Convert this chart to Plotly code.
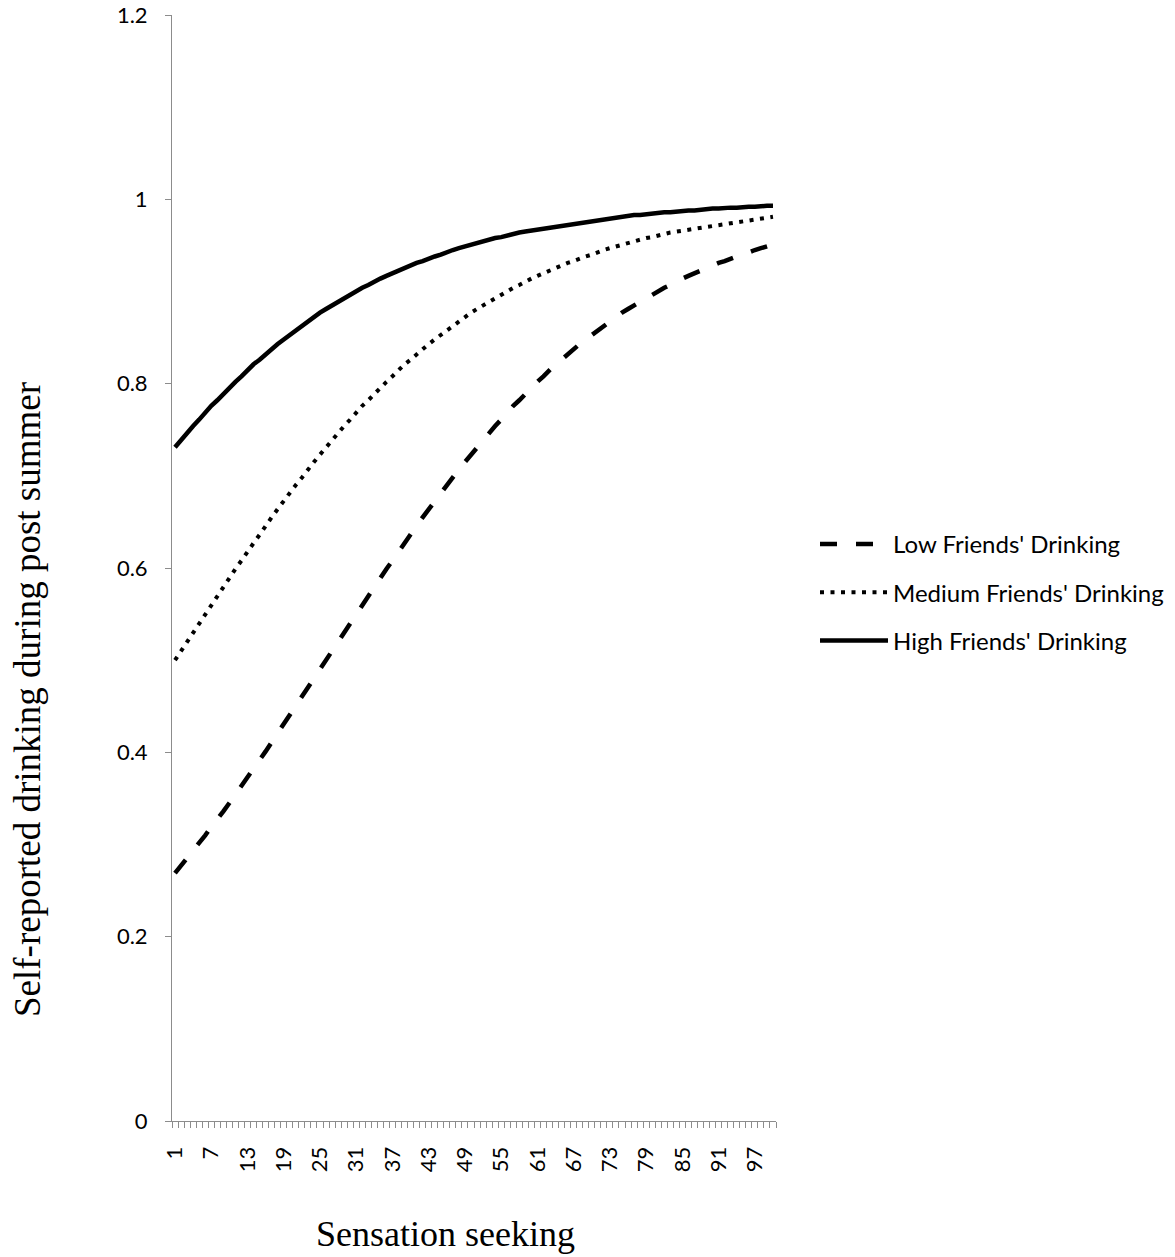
import plotly.graph_objects as go

# Sensation seeking categories 1..100
sensation = list(range(1, 101))
x_tick_labels = [str(v) for v in range(1, 101, 6)]

low_friends = [
    0.269, 0.277, 0.285, 0.293, 0.302, 0.310, 0.319, 0.327, 0.336, 0.345,
    0.354, 0.364, 0.373, 0.382, 0.392, 0.401, 0.411, 0.421, 0.430, 0.440,
    0.450, 0.460, 0.470, 0.480, 0.490, 0.500, 0.510, 0.520, 0.530, 0.540,
    0.550, 0.560, 0.570, 0.579, 0.589, 0.599, 0.608, 0.618, 0.627, 0.636,
    0.646, 0.655, 0.664, 0.673, 0.681, 0.690, 0.698, 0.707, 0.715, 0.723,
    0.731, 0.739, 0.747, 0.754, 0.761, 0.769, 0.776, 0.782, 0.789, 0.796,
    0.802, 0.808, 0.815, 0.821, 0.826, 0.832, 0.838, 0.843, 0.848, 0.853,
    0.858, 0.863, 0.868, 0.872, 0.877, 0.881, 0.885, 0.889, 0.893, 0.897,
    0.900, 0.904, 0.907, 0.911, 0.914, 0.917, 0.920, 0.923, 0.926, 0.928,
    0.931, 0.933, 0.936, 0.938, 0.940, 0.943, 0.945, 0.947, 0.949, 0.951,
]

medium_friends = [
    0.500, 0.510, 0.520, 0.530, 0.540, 0.550, 0.560, 0.570, 0.579, 0.589,
    0.599, 0.608, 0.618, 0.627, 0.636, 0.646, 0.655, 0.664, 0.673, 0.681,
    0.690, 0.698, 0.707, 0.715, 0.723, 0.731, 0.739, 0.747, 0.754, 0.761,
    0.769, 0.776, 0.782, 0.789, 0.796, 0.802, 0.808, 0.815, 0.821, 0.826,
    0.832, 0.838, 0.843, 0.848, 0.853, 0.858, 0.863, 0.868, 0.872, 0.877,
    0.881, 0.885, 0.889, 0.893, 0.897, 0.900, 0.904, 0.907, 0.911, 0.914,
    0.917, 0.920, 0.923, 0.926, 0.928, 0.931, 0.933, 0.936, 0.938, 0.940,
    0.943, 0.945, 0.947, 0.949, 0.951, 0.953, 0.954, 0.956, 0.958, 0.959,
    0.961, 0.962, 0.964, 0.965, 0.966, 0.968, 0.969, 0.970, 0.971, 0.972,
    0.973, 0.974, 0.975, 0.976, 0.977, 0.978, 0.979, 0.980, 0.981, 0.981,
]

high_friends = [
    0.731, 0.739, 0.747, 0.754, 0.761, 0.769, 0.776, 0.782, 0.789, 0.796,
    0.802, 0.808, 0.815, 0.821, 0.826, 0.832, 0.838, 0.843, 0.848, 0.853,
    0.858, 0.863, 0.868, 0.872, 0.877, 0.881, 0.885, 0.889, 0.893, 0.897,
    0.900, 0.904, 0.907, 0.911, 0.914, 0.917, 0.920, 0.923, 0.926, 0.928,
    0.931, 0.933, 0.936, 0.938, 0.940, 0.943, 0.945, 0.947, 0.949, 0.951,
    0.953, 0.954, 0.956, 0.958, 0.959, 0.961, 0.962, 0.964, 0.965, 0.966,
    0.968, 0.969, 0.970, 0.971, 0.972, 0.973, 0.974, 0.975, 0.976, 0.977,
    0.978, 0.979, 0.980, 0.981, 0.981, 0.982, 0.983, 0.983, 0.984, 0.985,
    0.985, 0.986, 0.986, 0.987, 0.987, 0.988, 0.988, 0.989, 0.989, 0.990,
    0.990, 0.991, 0.991, 0.991, 0.992, 0.992, 0.992, 0.993, 0.993, 0.993,
]

series_names = ["Low Friends' Drinking", "Medium Friends' Drinking", "High Friends' Drinking"]
y_ticks = [0, 0.2, 0.4, 0.6, 0.8, 1.0, 1.2]
y_tick_text = ["0", "0.2", "0.4", "0.6", "0.8", "1", "1.2"]

W, H = 1175, 1257
L, R, T, B = 172, 399, 15, 136
PW, PH = W - L - R, H - T - B
axis_gray = "#8c8c8c"
tick_font = dict(family="Lato, 'Open Sans', sans-serif", size=22, color="#000000")
serif = "'Liberation Serif', 'Times New Roman', serif"

fig = go.Figure()
styles = [
    dict(dash="17px,19px", width=4.5),
    dict(dash="4px,6.5px", width=4),
    dict(dash="solid", width=4.5),
]
for name, vals, st, grp in zip(series_names, [low_friends, medium_friends, high_friends], styles, ["a", "b", "c"]):
    fig.add_trace(go.Scatter(
        x=sensation, y=vals, mode="lines", name=name, legendgroup=grp,
        line=dict(color="#000000", width=st["width"], dash=st["dash"]),
    ))

fig.update_layout(
    width=W, height=H,
    margin=dict(l=L, r=R, t=T, b=B, pad=0, autoexpand=False),
    paper_bgcolor="white", plot_bgcolor="white",
    showlegend=True,
    legend=dict(
        x=(815 - L) / PW, xanchor="left",
        y=(1121 - 522) / PH, yanchor="top",
        font=dict(family="Lato, 'Open Sans', sans-serif", size=24, color="#000000"),
        tracegroupgap=14, bgcolor="rgba(0,0,0,0)", itemwidth=68,
    ),
    xaxis=dict(
        range=[0.5, 100.5], showgrid=False, zeroline=False, automargin=False,
        showline=True, linecolor=axis_gray, linewidth=1,
        tickmode="array", tickvals=list(range(1, 101, 6)), ticktext=x_tick_labels,
        ticks="", tickangle=-90, tickfont=tick_font, ticklabelstandoff=16,
        minor=dict(tickmode="array", tickvals=[v + 0.5 for v in range(0, 101)],
                   ticks="outside", ticklen=6, tickcolor=axis_gray, tickwidth=1),
    ),
    yaxis=dict(
        range=[0, 1.2], showgrid=False, zeroline=False, automargin=False,
        showline=True, linecolor=axis_gray, linewidth=1,
        tickmode="array", tickvals=y_ticks, ticktext=y_tick_text,
        ticks="outside", ticklen=6, tickcolor=axis_gray, tickwidth=1,
        tickfont=tick_font, ticklabelstandoff=13,
    ),
    annotations=[
        dict(text="Sensation seeking", xref="paper", yref="paper",
             x=(445 - L) / PW, y=-(1234 - 1121) / PH,
             xanchor="center", yanchor="middle", showarrow=False,
             font=dict(family=serif, size=36, color="#000000")),
        dict(text="Self-reported drinking during post summer", xref="paper", yref="paper",
             x=-(L - 27) / PW, y=(1121 - 700) / PH,
             xanchor="center", yanchor="middle", showarrow=False, textangle=-90,
             font=dict(family=serif, size=37, color="#000000")),
    ],
)

fig.write_html("out.html")
